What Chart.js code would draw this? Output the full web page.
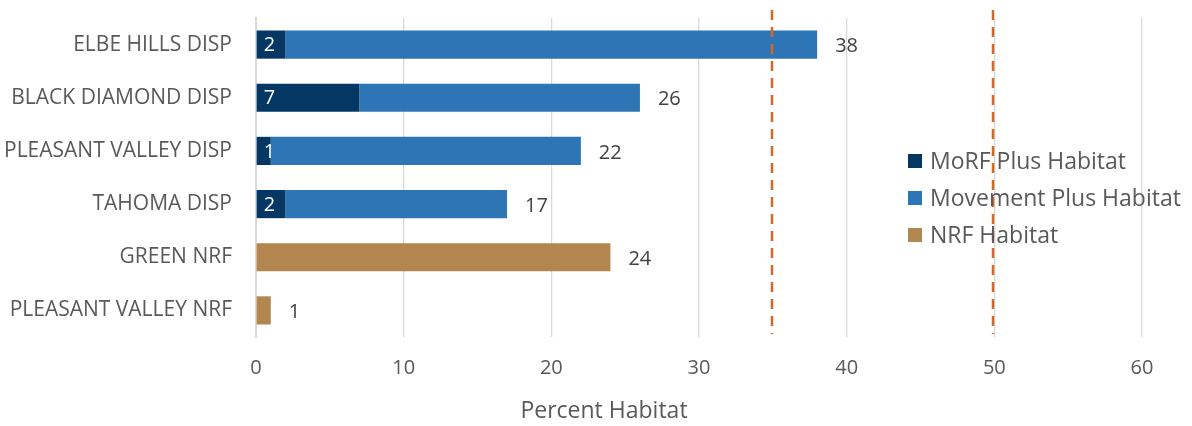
<!DOCTYPE html>
<html>
<head>
<meta charset="utf-8">
<script src="https://cdn.jsdelivr.net/npm/chart.js@4"></script>
<style>
  html, body { margin: 0; padding: 0; background: #fff; }
  #wrap { width: 1192px; height: 426px; position: relative; }
</style>
</head>
<body>
<div id="wrap"><canvas id="habitatChart"></canvas></div>
<script>
const categories = ['ELBE HILLS DISP', 'BLACK DIAMOND DISP', 'PLEASANT VALLEY DISP', 'TAHOMA DISP', 'GREEN NRF', 'PLEASANT VALLEY NRF'];
const morfPlus = [2, 7, 1, 2, null, null];
const movementPlus = [36, 19, 21, 15, null, null];
const nrfHabitat = [null, null, null, null, 24, 1];
const xMin = 0;
const xMax = 60;
const xStep = 10;
const thresholds = [35, 50];
const axisTitle = 'Percent Habitat';

const FONT = '"Open Sans", "DejaVu Sans", sans-serif';
const canvas = document.getElementById('habitatChart');

// value labels: white count inside the MoRF segment, row total past the bar end
const barLabels = {
  id: 'barLabels',
  afterDatasetsDraw(chart) {
    const ctx = chart.ctx;
    const x = chart.scales.x;
    const y = chart.scales.y;
    ctx.save();
    ctx.font = '20px ' + FONT;
    ctx.textBaseline = 'middle';
    ctx.textAlign = 'left';
    chart.getDatasetMeta(0).data.forEach((bar, i) => {
      if (morfPlus[i] == null) return;
      ctx.fillStyle = '#ffffff';
      ctx.fillText(String(morfPlus[i]), bar.base + 7, bar.y + 1);
    });
    categories.forEach((c, i) => {
      const total = (morfPlus[i] || 0) + (movementPlus[i] || 0) + (nrfHabitat[i] || 0);
      ctx.fillStyle = '#404040';
      ctx.fillText(String(total), x.getPixelForValue(total) + 18, y.getPixelForValue(i) + 2);
    });
    ctx.restore();
  }
};

// orange dashed reference lines
const thresholdLines = {
  id: 'thresholdLines',
  afterDatasetsDraw(chart) {
    const ctx = chart.ctx;
    const area = chart.chartArea;
    ctx.save();
    ctx.strokeStyle = '#d0692a';
    ctx.lineWidth = 2.5;
    ctx.setLineDash([10, 7]);
    thresholds.forEach(v => {
      const px = Math.round(chart.scales.x.getPixelForValue(v)) - 1;
      ctx.beginPath();
      ctx.moveTo(px, area.top - 8);
      ctx.lineTo(px, area.bottom - 3);
      ctx.stroke();
    });
    ctx.restore();
  }
};

// legend floating over the right side of the plot, plus the axis title
const floatLegend = {
  id: 'floatLegend',
  afterDraw(chart) {
    const ctx = chart.ctx;
    const left = 908;
    const top = 161;
    const rowGap = 37;
    ctx.save();
    ctx.font = '23px ' + FONT;
    ctx.textBaseline = 'middle';
    ctx.textAlign = 'left';
    chart.data.datasets.forEach((ds, i) => {
      const cy = top + i * rowGap;
      ctx.fillStyle = ds.backgroundColor;
      ctx.fillRect(left, cy - 7, 14, 14);
      ctx.fillStyle = '#595959';
      ctx.fillText(ds.label, left + 22, cy + 1);
    });
    ctx.textAlign = 'center';
    ctx.fillText(axisTitle, 604, 411);
    ctx.restore();
  }
};

new Chart(canvas.getContext('2d'), {
  type: 'bar',
  data: {
    labels: categories,
    datasets: [
      { label: 'MoRF Plus Habitat', data: morfPlus, backgroundColor: '#043764' },
      { label: 'Movement Plus Habitat', data: movementPlus, backgroundColor: '#2e75b6' },
      { label: 'NRF Habitat', data: nrfHabitat, backgroundColor: '#b3854f' }
    ]
  },
  options: {
    indexAxis: 'y',
    responsive: true,
    maintainAspectRatio: false,
    animation: false,
    categoryPercentage: 1,
    barPercentage: 0.53,
    layout: { padding: { top: 18, right: 50, left: 0, bottom: 0 } },
    plugins: {
      legend: { display: false },
      tooltip: { enabled: false }
    },
    scales: {
      x: {
        stacked: true,
        min: xMin,
        max: xMax,
        afterFit(scale) { scale.height = 89; },
        ticks: {
          stepSize: xStep,
          color: '#595959',
          padding: 19,
          font: { family: FONT, size: 20 }
        },
        grid: { color: '#d9d9d9', lineWidth: 1.3, drawTicks: false },
        border: { display: false }
      },
      y: {
        stacked: true,
        afterFit(scale) {
          scale.width = 256;
          scale.paddingTop = 0;
          scale.paddingBottom = 0;
        },
        ticks: {
          color: '#595959',
          padding: 24,
          font: { family: FONT, size: 21 }
        },
        grid: { display: false, drawTicks: false },
        border: { display: true, color: '#d9d9d9', width: 2 }
      }
    }
  },
  plugins: [barLabels, thresholdLines, floatLegend]
});
</script>
</body>
</html>
